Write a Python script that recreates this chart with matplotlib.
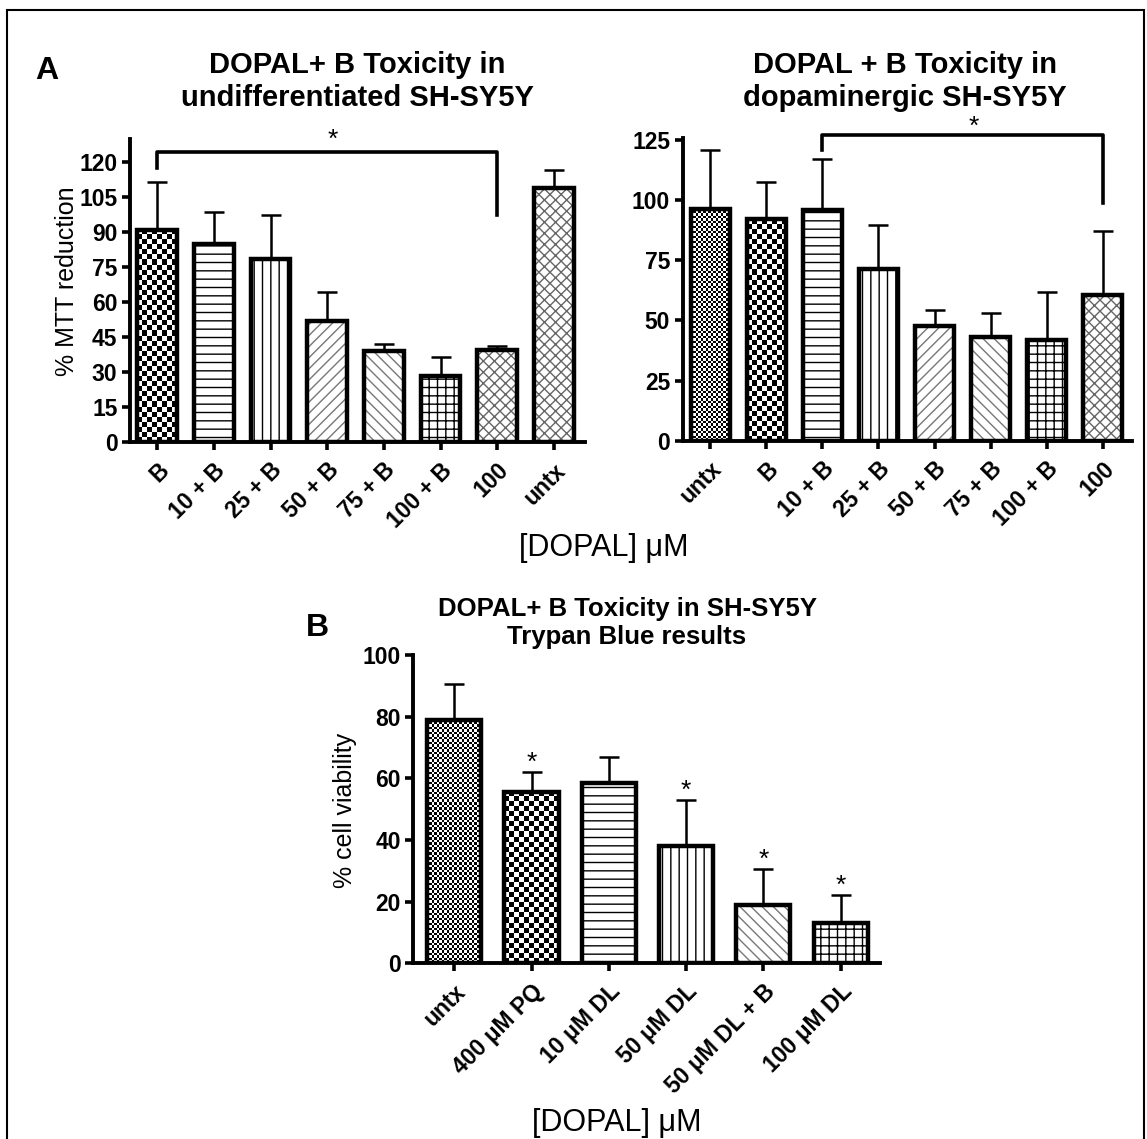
import numpy as np
import matplotlib
matplotlib.use('Agg')
import matplotlib.pyplot as plt
from matplotlib.patches import Rectangle

# data
mtt_undiff_labels = ['B', '10 + B', '25 + B', '50 + B', '75 + B', '100 + B', '100', 'untx']
mtt_undiff_mean = [91, 85, 78.5, 52, 39, 28.5, 39.5, 109]
mtt_undiff_err = [20.5, 13.5, 19, 12.5, 3, 8, 1.5, 7.5]

mtt_dopa_labels = ['untx', 'B', '10 + B', '25 + B', '50 + B', '75 + B', '100 + B', '100']
mtt_dopa_mean = [96.5, 92, 96, 71.5, 47.5, 43, 42, 60.5]
mtt_dopa_err = [24.5, 15.5, 21, 18, 7, 10, 20, 26.5]

trypan_labels = ['untx', '400 μM PQ', '10 μM DL', '50 μM DL', '50 μM DL + B', '100 μM DL']
trypan_mean = [79, 55.5, 58.5, 38, 19, 13]
trypan_err = [11.5, 6.5, 8.5, 15, 11.5, 9]
trypan_sig = [False, True, False, True, True, True]

# fill style for each bar
undiff_fill = ['checker', '--', '||', '///', '\\\\\\', '++', 'xxx', 'xxx']
dopa_fill = ['fine', 'checker', '--', '||', '///', '\\\\\\', '++', 'xxx']
trypan_fill = ['fine', 'checker', '--', '||', '\\\\\\', '++']

plt.rcParams['font.family'] = ['Liberation Sans', 'DejaVu Sans']
plt.rcParams['hatch.linewidth'] = 1.0

W, H = 1147, 1139
fig = plt.figure(figsize=(W / 100, H / 100), dpi=100)


def px_axes(left, right, bottom, top):
    # axes box given in pixel coords of the picture
    return fig.add_axes([left / W, 1 - bottom / H, (right - left) / W, (bottom - top) / H])


def checker_fill(ax, patch, cell_px):
    x0, y0 = patch.get_x(), patch.get_y()
    w, h = patch.get_width(), patch.get_height()
    (px0, py0), (px1, py1) = ax.transData.transform([(x0, y0), (x0 + w, y0 + h)])
    nx = max(1, int(round((px1 - px0) / cell_px)))
    ny = max(1, int(round((py1 - py0) / cell_px)))
    board = np.indices((ny, nx)).sum(axis=0) % 2
    im = ax.imshow(board, cmap='gray', extent=[x0, x0 + w, y0, y0 + h], aspect='auto',
                   interpolation='nearest', origin='lower', zorder=1.5)
    im.set_clip_path(patch)


def bar_panel(ax, labels, means, errs, fills, xlim, ylim, yticks):
    x = np.arange(len(labels))
    ax.set_xlim(*xlim)
    ax.set_ylim(*ylim)
    # error bars first (upper only)
    ax.errorbar(x, means, yerr=[np.zeros(len(errs)), errs], fmt='none', ecolor='black',
                elinewidth=1.8, capsize=7, capthick=1.8, zorder=1)
    for i, f in enumerate(fills):
        if f in ('checker', 'fine'):
            b = ax.bar(x[i], means[i], width=0.7, color='white', linewidth=0, zorder=1.2)
            checker_fill(ax, b[0], 5 if f == 'checker' else 2.5)
        else:
            if 'x' in f:
                hc = '#666666'
            elif '/' in f or '\\' in f:
                hc = '#777777'
            else:
                hc = 'black'
            ax.bar(x[i], means[i], width=0.7, color='white', edgecolor=hc, hatch=f,
                   linewidth=0, zorder=1.2)
    ax.bar(x, means, width=0.7, fill=False, edgecolor='black', linewidth=3.2, zorder=2)
    ax.set_xlim(*xlim)
    ax.set_ylim(*ylim)
    ax.set_yticks(yticks)
    ax.set_xticks(x)
    ax.set_xticklabels(labels, rotation=45, ha='right', rotation_mode='anchor')
    for lab in ax.get_xticklabels() + ax.get_yticklabels():
        lab.set_fontweight('bold')
        lab.set_fontsize(16.5)
    ax.tick_params(axis='both', width=2.6, length=6, pad=3)
    ax.tick_params(axis='x', pad=6)
    for s in ['top', 'right']:
        ax.spines[s].set_visible(False)
    for s in ['left', 'bottom']:
        ax.spines[s].set_linewidth(2.8)
    ax.patch.set_alpha(0)
    return x


# panel A left
ax1 = px_axes(130, 585, 442, 139)
x1 = bar_panel(ax1, mtt_undiff_labels, mtt_undiff_mean, mtt_undiff_err, undiff_fill,
               (-0.48, 7.55), (0, 130), np.arange(0, 121, 15))
ax1.plot([x1[0], x1[0], x1[6], x1[6]], [117.5, 124.5, 124.5, 97.5], color='black',
         linewidth=2.6, clip_on=False, zorder=3)
ax1.text(3.1, 126.5, '*', ha='center', va='baseline', fontsize=19, clip_on=False)

# panel A right
ax2 = px_axes(682.7, 1132, 440.7, 137.7)
x2 = bar_panel(ax2, mtt_dopa_labels, mtt_dopa_mean, mtt_dopa_err, dopa_fill,
               (-0.49, 7.52), (0, 126), np.arange(0, 126, 25))
ax2.plot([x2[2], x2[2], x2[7], x2[7]], [121, 127, 127, 99], color='black',
         linewidth=2.6, clip_on=False, zorder=3)
ax2.text(4.69, 127.5, '*', ha='center', va='baseline', fontsize=19, clip_on=False)

# panel B
ax3 = px_axes(413.3, 880, 963.3, 655)
x3 = bar_panel(ax3, trypan_labels, trypan_mean, trypan_err, trypan_fill,
               (-0.53, 5.51), (0, 100), np.arange(0, 101, 20))
for i in range(len(trypan_labels)):
    if trypan_sig[i]:
        ax3.text(x3[i], trypan_mean[i] + trypan_err[i] + 0.8, '*', ha='center',
                 va='baseline', fontsize=19)

# titles and labels
fig.text(35 / W, 1 - 79 / H, 'A', fontsize=23, fontweight='bold', va='baseline')
fig.text(357 / W, 1 - 73 / H, 'DOPAL+ B Toxicity in', fontsize=21, fontweight='bold',
         ha='center', va='baseline')
fig.text(357 / W, 1 - 106 / H, 'undifferentiated SH-SY5Y', fontsize=21, fontweight='bold',
         ha='center', va='baseline')
fig.text(905 / W, 1 - 73 / H, 'DOPAL + B Toxicity in', fontsize=21, fontweight='bold',
         ha='center', va='baseline')
fig.text(905 / W, 1 - 106 / H, 'dopaminergic SH-SY5Y', fontsize=21, fontweight='bold',
         ha='center', va='baseline')
fig.text(67 / W, 1 - 281 / H, '% MTT reduction', fontsize=18, rotation=90,
         ha='center', va='center')
fig.text(604 / W, 1 - 556 / H, '[DOPAL] μM', fontsize=22, ha='center', va='baseline')

fig.text(306 / W, 1 - 636 / H, 'B', fontsize=23, fontweight='bold', va='baseline')
fig.text(627 / W, 1 - 616 / H, 'DOPAL+ B Toxicity in SH-SY5Y', fontsize=18.5,
         fontweight='bold', ha='center', va='baseline')
fig.text(627 / W, 1 - 644 / H, 'Trypan Blue results', fontsize=18.5, fontweight='bold',
         ha='center', va='baseline')
fig.text(345 / W, 1 - 810 / H, '% cell viability', fontsize=18, rotation=90,
         ha='center', va='center')
fig.text(617 / W, 1 - 1131 / H, '[DOPAL] μM', fontsize=22, ha='center', va='baseline')

# outer frame
fig.patches.append(Rectangle((7 / W, -0.02), (1144 - 7) / W, 1.02 - 10 / H,
                             transform=fig.transFigure, fill=False, edgecolor='black',
                             linewidth=1.5))

fig.savefig('out.png', dpi=100)
